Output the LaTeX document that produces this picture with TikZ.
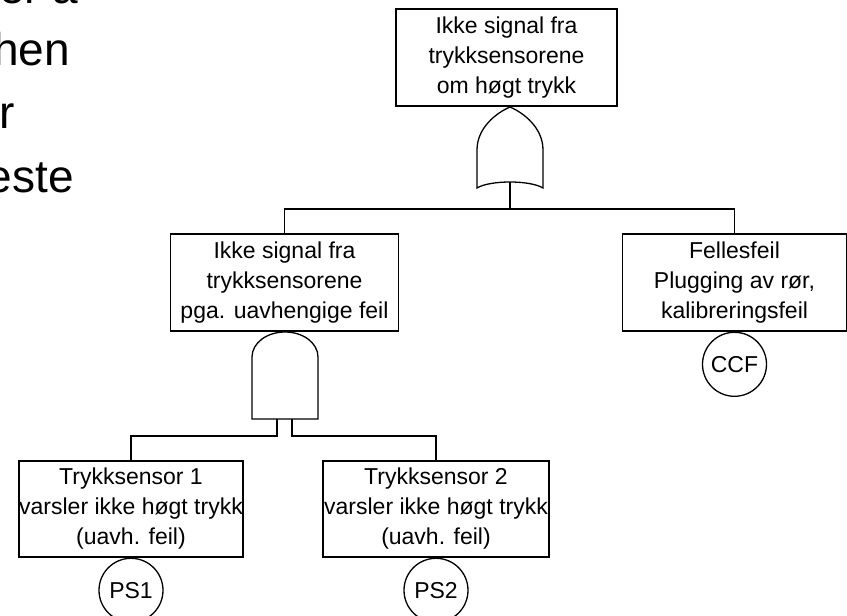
\documentclass[tikz,border=0pt]{standalone}
\usepackage{fontspec}
\setmainfont{Liberation Sans}
\begin{document}
\begin{tikzpicture}[x=1pt,y=-1pt,
  box/.style={draw, line width=1.3pt, rectangle, inner sep=0pt, align=center, font=\fontsize{23}{30}\selectfont},
  evt/.style={draw, line width=1.3pt, circle, minimum size=64pt, inner sep=0pt, font=\fontsize{23}{28}\selectfont},
  wire/.style={line width=1.3pt},
  gate/.style={line width=1.3pt, fill=white},
  slide/.style={anchor=base east, inner sep=0pt, font=\fontsize{46}{55}\selectfont}]
\useasboundingbox (0,0) rectangle (847,616);
% slide text cut at the left edge
\node[slide] (l1) at (78.5,3) {er a};
\node[slide] (l2) at (70,65) {hen};
\node[slide] (l3) at (15.5,128) {r};
\node[slide] (l4) at (74,192) {este};
% boxes
\node[box, minimum width=221pt, minimum height=97pt] (top) at (506.5,57.5) {Ikke signal fra\\trykksensorene\\om høgt trykk};
\node[box, minimum width=228pt, minimum height=97pt] (mid) at (284.5,282.5) {Ikke signal fra\\trykksensorene\\pga. uavhengige feil};
\node[box, minimum width=224pt, minimum height=97pt] (ccfbox) at (734.5,282.5) {Fellesfeil\\Plugging av rør,\\kalibreringsfeil};
\node[box, minimum width=224pt, minimum height=96pt] (s1) at (131,509) {Trykksensor 1\\varsler ikke høgt trykk\\(uavh. feil)};
\node[box, minimum width=226pt, minimum height=96pt] (s2) at (436,509) {Trykksensor 2\\varsler ikke høgt trykk\\(uavh. feil)};
% basic events
\node[evt, anchor=north] (ccf) at (ccfbox.south) {CCF};
\node[evt, anchor=north] (ps1) at (s1.south) {PS1};
\node[evt, anchor=north] (ps2) at (s2.south) {PS2};
% OR gate
\coordinate (orin) at (510,107);
\coordinate (orout) at (510,182);
\coordinate (orjoin) at (510,209);
\draw[gate] (477,188) -- (477,150) .. controls (477,128) and (496,113) .. (orin)
  .. controls (524,113) and (543,128) .. (543,150) -- (543,188)
  .. controls (530,180) and (490,180) .. (477,188) -- cycle;
\draw[wire] (orout) -- (orjoin);
\draw[wire] (mid.north) |- (orjoin) -| (ccfbox.north);
% AND gate
\coordinate (andin) at (285,332);
\coordinate (andl) at (277,419);
\coordinate (andr) at (292,419);
\draw[gate] (252,419) -- (252,357) .. controls (252,343) and (266.8,332) .. (andin)
  .. controls (303.2,332) and (318,343) .. (318,357) -- (318,419) -- cycle;
\draw[wire] (andl) -- ++(0,17) -| (s1.north);
\draw[wire] (andr) -- ++(0,17) -| (s2.north);
\end{tikzpicture}
\end{document}
